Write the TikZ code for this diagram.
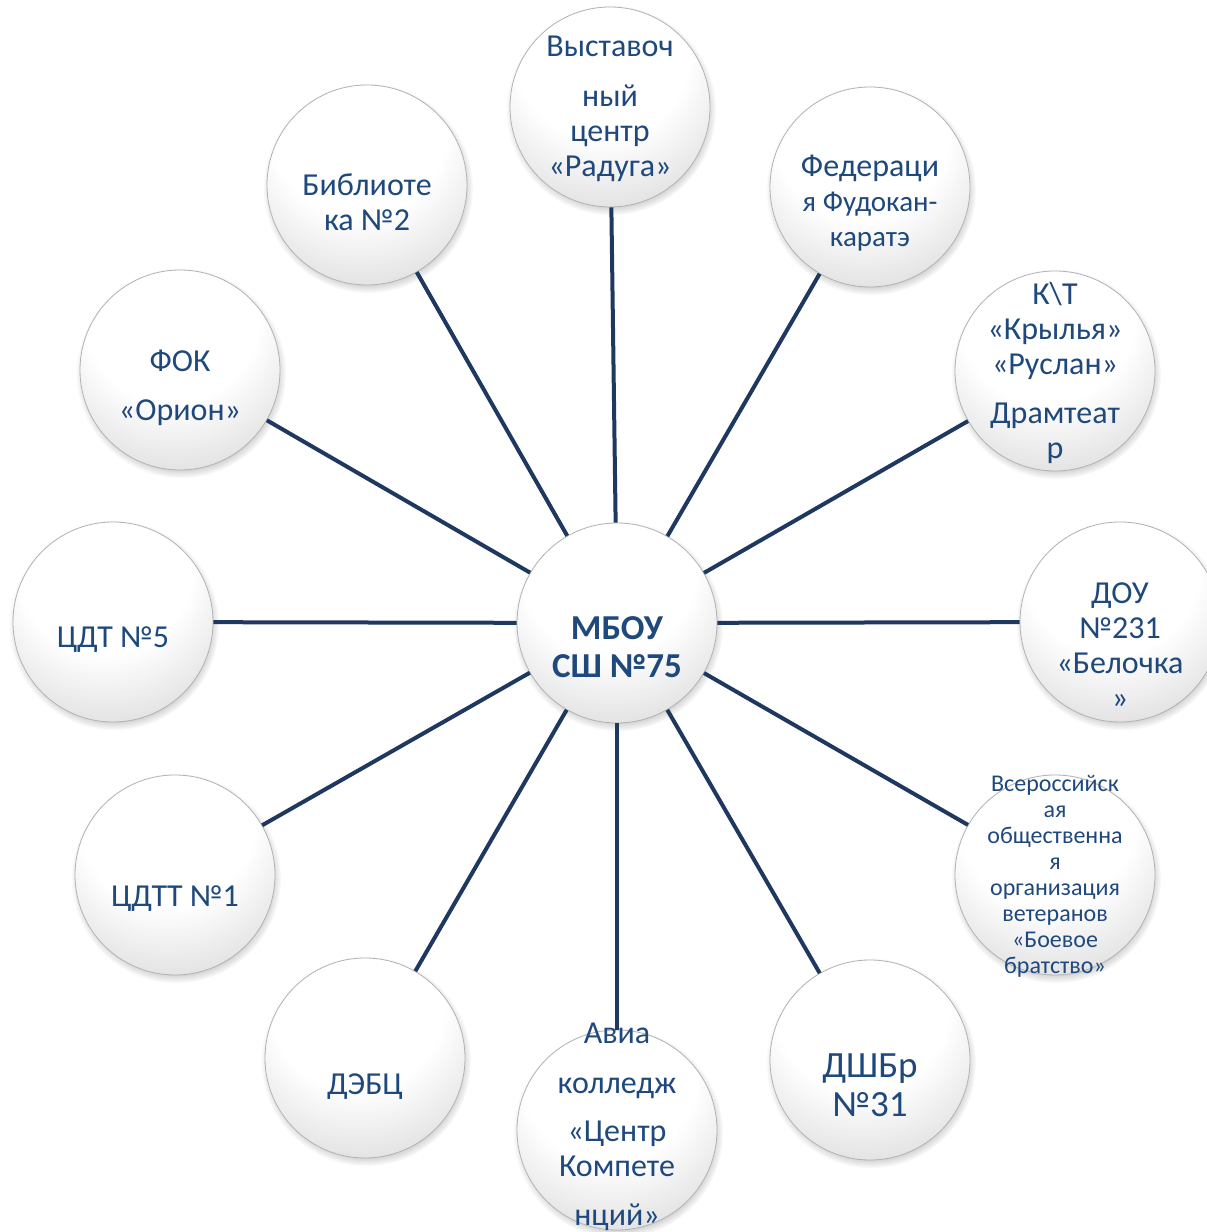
\documentclass[tikz,border=0pt]{standalone}
\usepackage{fontspec}
\setmainfont{Carlito}
\usetikzlibrary{shadows}
\definecolor{navy}{RGB}{31,56,96}
\definecolor{textblue}{RGB}{31,73,125}
\pgfdeclareradialshading{bubble}{\pgfpoint{-3bp}{20bp}}{color(0bp)=(white); color(22bp)=(white); color(38bp)=(black!13); color(52bp)=(black!19); color(62bp)=(black!22); color(72bp)=(black!12)}

\begin{document}
\begin{tikzpicture}[x=1pt,y=1pt,
    ball/.style={circle, minimum size=200pt, inner sep=0pt, shading=bubble, draw=black!30, line width=0.8pt,
      circular drop shadow={shadow xshift=1pt, shadow yshift=-3pt, shadow scale=1.05, opacity=0.6}},
    txt/.style={align=center, text=textblue, font=\fontsize{32}{35}\selectfont},
    link/.style={draw=navy, line width=4pt}]
        % Page frame
        \clip (0,0) rectangle (1207,1232);
        % The circles
        \node[ball] (mbou) at (617,609) {};
        \node[ball] (vyst) at (610,1125) {};
        \node[ball] (fed) at (870,1045) {};
        \node[ball] (kt) at (1055,861) {};
        \node[ball] (dou) at (1120,610) {};
        \node[ball] (vser) at (1055,357) {};
        \node[ball] (dshbr) at (870,172) {};
        \node[ball] (avia) at (617,102) {};
        \node[ball] (debc) at (365,174) {};
        \node[ball] (cdtt) at (175,357) {};
        \node[ball] (cdt) at (113,610) {};
        \node[ball] (fok) at (180,862) {};
        \node[ball] (bibl) at (367,1047) {};
        % Draw the lines
        \draw[link] (mbou) -- (vyst);
        \draw[link] (mbou) -- (fed);
        \draw[link] (mbou) -- (kt);
        \draw[link] (mbou) -- (dou);
        \draw[link] (mbou) -- (vser);
        \draw[link] (mbou) -- (dshbr);
        \draw[link] (mbou) -- (avia);
        \draw[link] (mbou) -- (debc);
        \draw[link] (mbou) -- (cdtt);
        \draw[link] (mbou) -- (cdt);
        \draw[link] (mbou) -- (fok);
        \draw[link] (mbou) -- (bibl);
        % The labels
        \node[txt, font=\bfseries\fontsize{35}{38}\selectfont] (mbouT) at ([yshift=-24pt]mbou.center) {МБОУ\\СШ №75};
        \node[txt] (vystT) at ([yshift=-2pt]vyst.center) {Выставоч\\[15pt]ный\\центр\\«Радуга»};
        \node[txt] (fedT) at ([yshift=-16pt]fed.center) {Федераци\\{\fontsize{29}{35}\selectfont я Фудокан-}\\{\fontsize{29}{35}\selectfont каратэ}};
        \node[txt] (ktT) at ([yshift=-2pt]kt.center) {К\textbackslash Т\\«Крылья»\\«Руслан»\\[14pt]Драмтеат\\р};
        \node[txt] (douT) at ([yshift=-24pt]dou.center) {ДОУ\\№231\\«Белочка\\»};
        \node[txt, font=\fontsize{24}{26}\selectfont] (vserT) at ([yshift=-1pt]vser.center) {Всероссийск\\ая\\общественна\\я\\организация\\ветеранов\\«Боевое\\братство»};
        \node[txt, font=\fontsize{37}{39}\selectfont] (dshbrT) at ([yshift=-25pt]dshbr.center) {ДШБр\\№31};
        \node[txt] (aviaT) at ([yshift=3pt]avia.center) {Авиа\\[15pt]колледж\\[13pt]«Центр\\Компете\\[14pt]нций»};
        \node[txt] (debcT) at ([yshift=-29pt]debc.center) {ДЭБЦ};
        \node[txt] (cdttT) at ([yshift=-24pt]cdtt.center) {ЦДТТ №1};
        \node[txt] (cdtT) at ([yshift=-18pt]cdt.center) {ЦДТ №5};
        \node[txt] (fokT) at ([yshift=-18pt]fok.center) {ФОК\\[14pt]«Орион»};
        \node[txt] (biblT) at ([yshift=-17pt]bibl.center) {Библиоте\\ка №2};
    \end{tikzpicture}
\end{document}
